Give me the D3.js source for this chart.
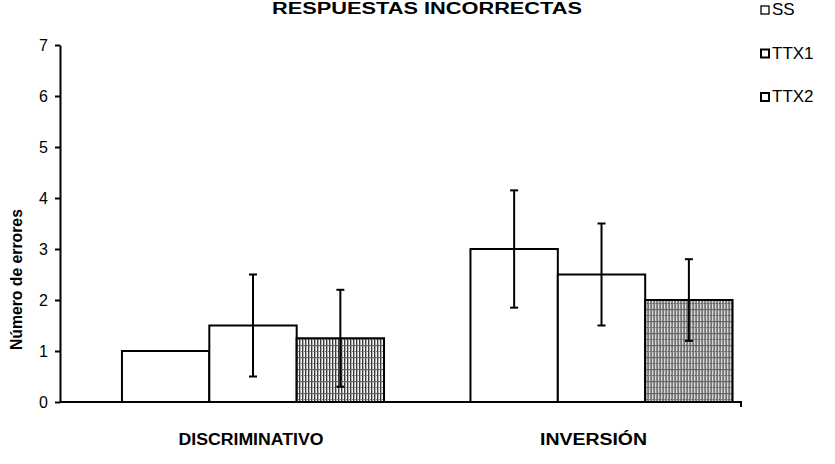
<!DOCTYPE html>
<html>
<head>
<meta charset="utf-8">
<script src="https://cdn.jsdelivr.net/npm/d3@7"></script>
<style>
  body { margin: 0; background: #fff; }
  svg { display: block; font-family: "Liberation Sans", Arial, sans-serif; }
  .axis path, .axis line { stroke: #000; stroke-width: 2; }
  .axis text { font-size: 16px; fill: #000; font-family: "Liberation Sans", Arial, sans-serif; }
  .bar { stroke: #000; stroke-width: 2; }
  .err { stroke: #000; stroke-width: 2; }
</style>
</head>
<body>
<svg id="chart" width="835" height="464"></svg>
<script>
// data
const categories = ["DISCRIMINATIVO", "INVERSIÓN"];
const categoryWidths = [145, 107];
const series = ["SS", "TTX1", "TTX2"];
const ssValues = [1, 3];
const ttx1Values = [1.5, 2.5];
const ttx2Values = [1.25, 2];
const ssErr = [0, 1.15];
const ttx1Err = [1.0, 1.0];
const ttx2Err = [0.95, 0.8];
const yTicks = [0, 1, 2, 3, 4, 5, 6, 7];

const values = { SS: ssValues, TTX1: ttx1Values, TTX2: ttx2Values };
const errors = { SS: ssErr, TTX1: ttx1Err, TTX2: ttx2Err };

const margin = {top: 45, right: 94, bottom: 62, left: 60};
const width = 835 - margin.left - margin.right;
const height = 464 - margin.top - margin.bottom;

const svg = d3.select("#chart");

// hatched fill for TTX2
const defs = svg.append("defs");
const pat = defs.append("pattern")
    .attr("id", "hatch")
    .attr("patternUnits", "userSpaceOnUse")
    .attr("width", 3).attr("height", 12);
pat.append("rect").attr("width", 3).attr("height", 12).attr("fill", "#fff");
pat.append("rect").attr("x", 0).attr("width", 1.4).attr("height", 12).attr("fill", "#333");
pat.append("rect").attr("y", 0).attr("width", 3).attr("height", 1.2).attr("fill", "#666");
pat.append("rect").attr("x", 2).attr("y", 6).attr("width", 1).attr("height", 1).attr("fill", "#888");

const fills = { SS: "#fff", TTX1: "#fff", TTX2: "url(#hatch)" };

const chart = svg.append("g")
    .attr("transform", "translate(" + margin.left + "," + margin.top + ")");

const x0 = d3.scaleBand()
    .domain(categories)
    .range([0, width])
    .paddingInner(0.248)
    .paddingOuter(0.101)
    .align(0.88);

const x1 = d3.scaleBand()
    .domain(series)
    .range([0, x0.bandwidth()]);

const y = d3.scaleLinear().domain([0, 7]).range([height, 0]);

// axes
chart.append("g").attr("class", "y axis")
    .call(d3.axisLeft(y).tickValues(yTicks).tickFormat(d3.format("d"))
        .tickSize(5).tickSizeOuter(0).tickPadding(7));

chart.append("g").attr("class", "x axis")
    .attr("transform", "translate(0," + height + ")")
    .call(d3.axisBottom(x0).tickValues([]).tickSizeOuter(5));
chart.select(".x.axis .domain").attr("d", "M0,0H" + width + "V5");

// bars
const groups = chart.selectAll(".group")
    .data(categories)
    .enter().append("g")
    .attr("class", "group")
    .attr("transform", function(d) { return "translate(" + x0(d) + ",0)"; });

groups.selectAll("rect")
    .data(function(d, i) { return series.map(function(s) { return {s: s, v: values[s][i], e: errors[s][i]}; }); })
    .enter().append("rect")
    .attr("class", "bar")
    .attr("x", function(d) { return x1(d.s); })
    .attr("y", function(d) { return y(d.v); })
    .attr("width", x1.bandwidth())
    .attr("height", function(d) { return height - y(d.v); })
    .attr("fill", function(d) { return fills[d.s]; });

// error bars
const errs = groups.selectAll(".errbar")
    .data(function(d, i) { return series.map(function(s) { return {s: s, v: values[s][i], e: errors[s][i]}; }).filter(function(d) { return d.e > 0; }); })
    .enter().append("g").attr("class", "errbar");

errs.append("line").attr("class", "err")
    .attr("x1", function(d) { return x1(d.s) + x1.bandwidth() / 2; })
    .attr("x2", function(d) { return x1(d.s) + x1.bandwidth() / 2; })
    .attr("y1", function(d) { return y(d.v - d.e); })
    .attr("y2", function(d) { return y(d.v + d.e); });
errs.append("line").attr("class", "err")
    .attr("x1", function(d) { return x1(d.s) + x1.bandwidth() / 2 - 4; })
    .attr("x2", function(d) { return x1(d.s) + x1.bandwidth() / 2 + 4; })
    .attr("y1", function(d) { return y(d.v + d.e); })
    .attr("y2", function(d) { return y(d.v + d.e); });
errs.append("line").attr("class", "err")
    .attr("x1", function(d) { return x1(d.s) + x1.bandwidth() / 2 - 4; })
    .attr("x2", function(d) { return x1(d.s) + x1.bandwidth() / 2 + 4; })
    .attr("y1", function(d) { return y(d.v - d.e); })
    .attr("y2", function(d) { return y(d.v - d.e); });

// category labels
chart.selectAll(".cat")
    .data(categories)
    .enter().append("text")
    .attr("class", "cat")
    .attr("x", function(d, i) { return x0(d) + x0.bandwidth() / 2 - 2 - i * 6 - categoryWidths[i] / 2; })
    .attr("y", height + 43)
    .attr("font-size", "16px")
    .attr("font-weight", "bold")
    .attr("textLength", function(d, i) { return categoryWidths[i]; })
    .attr("lengthAdjust", "spacingAndGlyphs")
    .text(function(d) { return d; });

// y title
chart.append("text")
    .attr("transform", "rotate(-90)")
    .attr("x", -(y(2.4)))
    .attr("y", -38)
    .attr("text-anchor", "middle")
    .attr("font-size", "16px")
    .attr("font-weight", "bold")
    .attr("textLength", 141)
    .attr("lengthAdjust", "spacingAndGlyphs")
    .text("Número de errores");

// title
svg.append("text")
    .attr("x", 272)
    .attr("y", 14)
    .attr("font-size", "16px")
    .attr("font-weight", "bold")
    .attr("textLength", 310)
    .attr("lengthAdjust", "spacingAndGlyphs")
    .text("RESPUESTAS INCORRECTAS");

// legend
const legend = svg.selectAll(".legend")
    .data(series)
    .enter().append("g")
    .attr("class", "legend")
    .attr("transform", function(d, i) { return "translate(761," + (15 + i * 43.5) + ")"; });

legend.append("rect")
    .attr("x", 0).attr("y", -9)
    .attr("width", 8).attr("height", 8)
    .attr("fill", "#fff")
    .attr("stroke", "#000")
    .attr("stroke-width", function(d, i) { return i === 0 ? 1.3 : 2; });

legend.append("text")
    .attr("x", 11)
    .attr("y", 0)
    .attr("font-size", "17px")
    .text(function(d) { return d; });
</script>
</body>
</html>
